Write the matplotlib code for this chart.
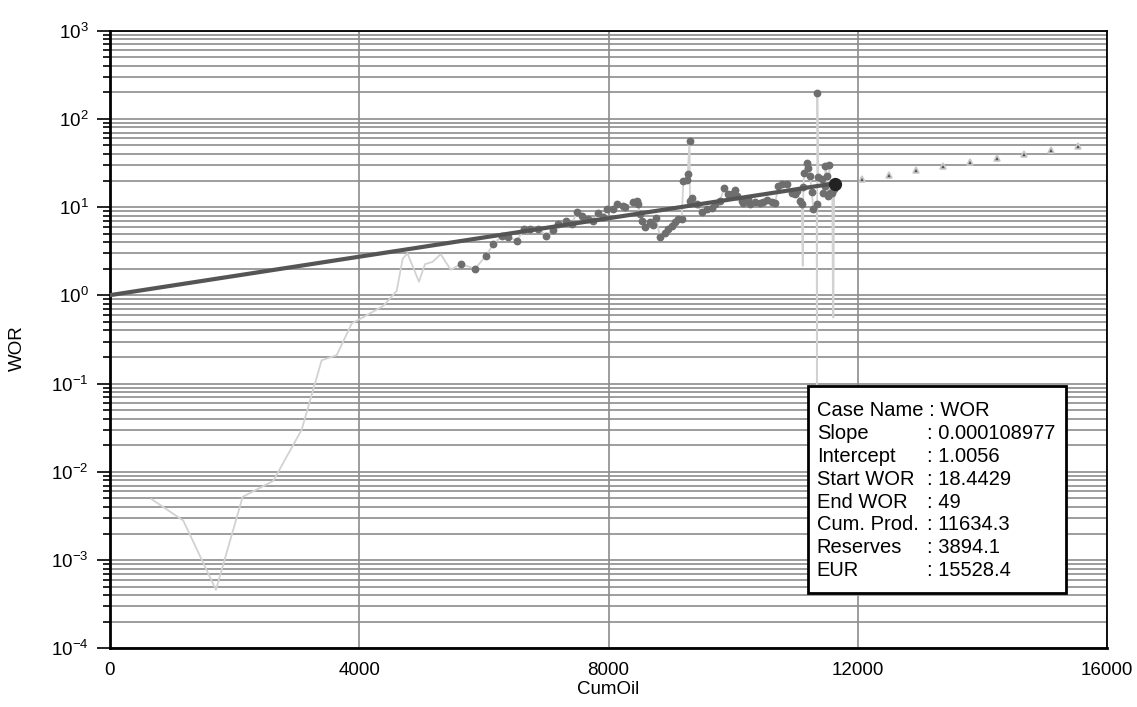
import numpy as np
import matplotlib
matplotlib.use('Agg')
import matplotlib.pyplot as plt
from matplotlib.ticker import FixedLocator, FuncFormatter, NullFormatter
from matplotlib.patches import Rectangle

plt.rcParams['font.family'] = ['Liberation Sans', 'DejaVu Sans']
plt.rcParams['mathtext.fontset'] = 'custom'
plt.rcParams['mathtext.rm'] = 'Liberation Sans'
plt.rcParams['mathtext.it'] = 'Liberation Sans'

# production history: cumulative oil vs water-oil ratio
cum_oil = [669, 1177, 1701, 2129, 2620, 3076, 3397, 3638, 3879, 4012, 4386, 4600,
           4697, 4773, 4958, 5055, 5178, 5307, 5468,
           5633, 5858, 6029, 6152, 6286, 6393, 6527, 6644, 6740, 6874, 6998, 7104,
           7195, 7318, 7409, 7500, 7580, 7677, 7757, 7837, 7917, 7970, 8077, 8130,
           8237, 8265, 8399, 8452, 8479, 8500, 8532, 8586, 8666, 8720, 8762, 8826,
           8907, 8960, 9013, 9067, 9120, 9174, 9201, 9254, 9270, 9300, 9307, 9334,
           9414, 9494, 9575, 9655, 9709, 9789, 9853, 9923, 9976, 10030, 10057, 10137,
           10164, 10244, 10271, 10351, 10431, 10485, 10539, 10619, 10672, 10726,
           10779, 10860, 10940, 10994, 11020, 11074, 11101, 11117, 11127, 11140,
           11180, 11207, 11234, 11260, 11287, 11340, 11345, 11350, 11368, 11420,
           11447, 11474, 11480, 11500, 11520, 11543, 11554, 11590, 11600, 11607,
           11620, 11634]
wor = [0.0049, 0.0028, 0.00046, 0.0052, 0.0079, 0.030, 0.184, 0.21, 0.48, 0.54, 0.76, 1.12,
       2.6, 3.0, 1.43, 2.26, 2.4, 2.93, 1.95,
       2.26, 2.0, 2.8, 3.8, 4.7, 4.6, 4.15, 5.6, 5.6, 5.7, 4.76, 5.5,
       6.4, 6.9, 6.5, 8.9, 7.95, 7.3, 7.0, 8.5, 7.8, 9.5, 9.5, 10.8,
       10.3, 10.1, 11.3, 11.8, 10.8, 8.3, 7.0, 6.0, 6.7, 6.3, 7.6, 4.6,
       5.15, 5.6, 6.1, 6.7, 7.3, 7.3, 19.9, 20.2, 23.7, 56, 11.6, 12.8,
       10.8, 8.7, 9.5, 9.7, 10.8, 11.8, 16.4, 14.0, 14.0, 15.6, 13.4, 11.8,
       11.0, 12.3, 10.8, 11.3, 11.0, 11.3, 12.0, 11.3, 11.0, 17.4,
       18.2, 18.5, 14.6, 14.0, 15.3, 11.8, 10.8, 2.16, 16.7, 24.7,
       32, 28, 22.6, 15.0, 9.5, 10.8, 0.01, 196, 21.7, 20.8,
       14.6, 17.5, 29.4, 22.6, 13.4, 30.2, 14.6, 14.6, 1.03, 0.56,
       16.0, 18.44]

# regression uses the points from 5600 on, except these outliers
fit_start = 5600
skipped = [11117, 11345, 11600, 11607]

# forecast points
fc_cum = [12060, 12500, 12940, 13370, 13800, 14240, 14670, 15100, 15530]
fc_wor = [20.8, 23.2, 26.2, 29.0, 32.1, 35.8, 39.9, 44.4, 49.0]

slope = 0.000108977
intercept = 1.0056
start_cum = 11634.3
start_wor = 18.4429

box_rows = [('Case Name :', 'WOR'), ('Slope', ': 0.000108977'), ('Intercept', ': 1.0056'),
            ('Start WOR', ': 18.4429'), ('End WOR', ': 49'), ('Cum. Prod.', ': 11634.3'),
            ('Reserves', ': 3894.1'), ('EUR', ': 15528.4')]

x_ticks = [0, 4000, 8000, 12000, 16000]
y_decades = np.arange(-4, 4)

cum_oil = np.array(cum_oil)
wor = np.array(wor)
used = (cum_oil > fit_start) & ~np.isin(cum_oil, skipped)

fig = plt.figure(figsize=(11.37, 7.07), dpi=100)
ax = fig.add_axes([0.0967, 0.083, 0.877, 0.8736])

ax.set_yscale('log')
ax.set_xlim(0, 16000)
ax.set_ylim(1e-4, 1e3)

# ticks and grid
major_y = 10.0 ** y_decades
minor_y = [m * d for d in major_y[:-1] for m in range(2, 10)]
ax.yaxis.set_major_locator(FixedLocator(major_y))
ax.yaxis.set_minor_locator(FixedLocator(minor_y))
ax.yaxis.set_minor_formatter(NullFormatter())
ax.yaxis.set_major_formatter(FuncFormatter(lambda v, p: r'$10^{%d}$' % round(np.log10(v))))
ax.xaxis.set_major_locator(FixedLocator(x_ticks))
ax.grid(which='both', axis='y', color='#8c8c8c', lw=1.2, zorder=0)
ax.grid(which='major', axis='x', color='#8c8c8c', lw=1.2, zorder=0)
ax.set_axisbelow(True)

ax.tick_params(axis='y', which='major', length=9.5, width=1.2, labelsize=13.5, pad=6)
ax.tick_params(axis='y', which='minor', length=5, width=1.2)
ax.tick_params(axis='x', length=0, labelsize=13.5, pad=10)
for s in ax.spines.values():
    s.set_color('black')
    s.set_linewidth(1.3)
ax.spines['left'].set_linewidth(2)
ax.spines['bottom'].set_linewidth(2)

# history line and regression points
ax.plot(cum_oil, wor, color='#d2d2d2', lw=1.3, zorder=2)
ax.plot(cum_oil[used], wor[used], 'o', ms=4.6, color='#6e6e6e', mec='#6e6e6e', zorder=3)

# fitted line
fit_x = np.array([0, start_cum])
ax.plot(fit_x, intercept * 10 ** (slope * fit_x), color='#555555', lw=3, zorder=4,
        solid_capstyle='round')
ax.plot([start_cum], [start_wor], 'o', ms=8.5, color='#222222', zorder=5)

# forecast
ax.plot(fc_cum, fc_wor, '^', ms=5, mfc='#505050', mec='#c8c8c8', mew=1.2, ls='none', zorder=4)

# results box
def ax_x(px):
    return (px - 110) / 997.0

def ax_y(py):
    return (648.3 - py) / 617.6

ax.add_patch(Rectangle((ax_x(808), ax_y(593)), ax_x(1066) - ax_x(808), ax_y(386) - ax_y(593),
                       transform=ax.transAxes, facecolor='white', edgecolor='black', lw=2, zorder=6))
for i, (name, val) in enumerate(box_rows):
    py = 410.7 + 22.85 * i
    if i == 0:
        ax.text(ax_x(816.7), ax_y(py), name + ' ' + val, transform=ax.transAxes,
                fontsize=14.5, va='center', ha='left', zorder=7)
        continue
    ax.text(ax_x(816.7), ax_y(py), name, transform=ax.transAxes, fontsize=14.5,
            va='center', ha='left', zorder=7)
    ax.text(ax_x(927), ax_y(py), val, transform=ax.transAxes, fontsize=14.5,
            va='center', ha='left', zorder=7)

fig.text(17 / 1137, 1 - 348 / 707, 'WOR', rotation=90, va='center', ha='center', fontsize=13.5)
fig.text(608.5 / 1137, 1 - 690 / 707, 'CumOil', va='center', ha='center', fontsize=13.5)

fig.savefig('out.png', dpi=100)
